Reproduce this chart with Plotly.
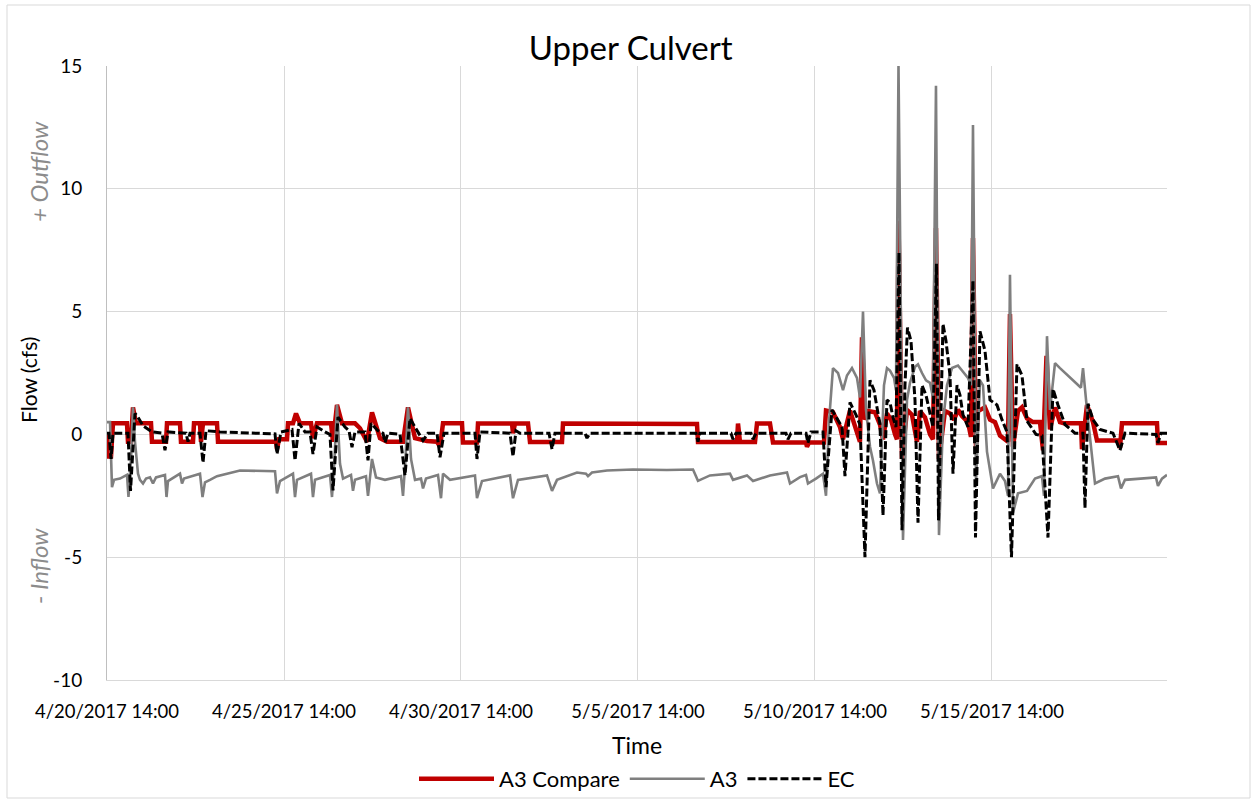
import pandas as pd
import plotly.graph_objects as go

# Series start: 4/20/2017 14:00; times are elapsed days from this point
START = pd.Timestamp("2017-04-20 14:00")

tick_days = [0, 5, 10, 15, 20, 25]
tick_labels = ["4/20/2017 14:00", "4/25/2017 14:00", "4/30/2017 14:00",
               "5/5/2017 14:00", "5/10/2017 14:00", "5/15/2017 14:00"]
flow_ticks = [-10, -5, 0, 5, 10, 15]
flow_tick_labels = ["-10", "-5", "0", "5", "10", "15"]

# A3 Compare
a3c_days = [0.000, 0.028, 0.113, 0.169, 0.565, 0.593, 0.678, 0.734, 0.819, 1.243,
            1.271, 1.667, 1.695, 2.062, 2.090, 2.429, 2.458, 2.627, 2.655, 2.712,
            3.107, 3.136, 4.774, 4.802, 4.859, 5.085, 5.113, 5.254, 5.339, 5.452,
            5.763, 5.819, 5.932, 6.328, 6.384, 6.497, 6.638, 7.006, 7.147, 7.345,
            7.486, 7.712, 7.910, 8.362, 8.503, 8.701, 9.040, 9.322, 9.407, 9.492,
            10.028, 10.056, 10.452, 10.480, 11.441, 11.469, 11.525, 11.893, 11.949, 12.853,
            12.881, 16.667, 16.695, 17.797, 17.825, 17.881, 18.305, 18.362, 18.729, 18.814,
            19.746, 19.774, 19.831, 20.254, 20.311, 20.508, 20.706, 20.791, 20.989, 21.130,
            21.271, 21.328, 21.412, 21.497, 21.695, 21.836, 21.921, 22.034, 22.147, 22.260,
            22.316, 22.359, 22.458, 22.599, 22.740, 22.881, 22.966, 23.107, 23.249, 23.333,
            23.418, 23.503, 23.672, 23.814, 23.927, 24.040, 24.153, 24.322, 24.407, 24.463,
            24.548, 24.605, 24.802, 24.944, 25.085, 25.226, 25.367, 25.452, 25.508, 25.593,
            25.734, 25.847, 25.989, 26.158, 26.356, 26.441, 26.540, 26.638, 26.780, 26.921,
            27.034, 27.514, 27.542, 27.684, 27.853, 27.966, 28.559, 28.616, 28.672, 29.661,
            29.689, 29.944]
a3c_flow = [0.0, -0.9, -0.9, 0.45, 0.45, -0.3, -0.3, 1.1, 0.45, 0.45,
            -0.3, -0.3, 0.45, 0.45, -0.3, -0.3, 0.45, 0.45, -0.3, 0.45,
            0.45, -0.3, -0.3, -0.6, -0.2, -0.2, 0.45, 0.45, 0.85, 0.45,
            0.45, -0.15, 0.45, 0.45, -0.3, 1.2, 0.45, 0.45, 0.25, -0.3,
            0.9, -0.15, -0.3, -0.3, 1.1, -0.15, -0.27, -0.3, -0.5, 0.45,
            0.45, -0.33, -0.33, 0.44, 0.44, 0.05, 0.44, 0.44, -0.31, -0.31,
            0.44, 0.42, -0.31, -0.31, 0.44, -0.31, -0.31, 0.44, 0.44, -0.33,
            -0.33, -0.5, -0.33, -0.33, 0.97, 0.9, 0.3, -0.2, 0.97, 0.4,
            -0.3, 3.95, 0.6, 0.95, 0.9, 0.4, -0.2, 0.85, 0.6, 0.0,
            -0.2, 8.7, -1.0, 1.0, 0.8, -0.3, 0.95, 0.7, 0.0, -0.2,
            8.4, -1.0, 0.95, 0.85, 0.6, 1.0, 0.75, 0.5, -0.1, 8.0,
            -0.5, 0.95, 1.1, 0.6, 0.5, -0.05, -0.2, -0.3, 4.9, -0.5,
            0.95, 1.1, 0.65, 0.5, 0.5, -0.65, 3.2, 0.2, 1.1, 0.5,
            0.45, 0.45, -0.6, 1.2, 0.5, -0.25, -0.25, -0.55, 0.45, 0.45,
            -0.35, -0.35]

# A3
a3_days = [0.000, 0.085, 0.141, 0.198, 0.367, 0.565, 0.607, 0.678, 0.734, 0.791,
           0.876, 0.932, 1.017, 1.102, 1.215, 1.299, 1.384, 1.638, 1.681, 1.723,
           2.062, 2.119, 2.175, 2.627, 2.698, 2.768, 2.910, 3.107, 3.757, 4.746,
           4.802, 4.887, 5.254, 5.311, 5.367, 5.763, 5.819, 5.876, 6.299, 6.356,
           6.427, 6.497, 6.582, 6.667, 6.893, 6.949, 7.006, 7.316, 7.373, 7.486,
           7.599, 7.853, 8.305, 8.362, 8.432, 8.503, 8.588, 8.701, 8.870, 8.927,
           9.011, 9.350, 9.435, 9.492, 9.689, 10.395, 10.452, 10.593, 11.384, 11.469,
           11.610, 12.429, 12.571, 12.712, 13.277, 13.531, 13.588, 13.701, 14.124, 14.859,
           15.819, 16.554, 16.695, 17.034, 17.599, 17.684, 18.079, 18.249, 18.729, 19.209,
           19.294, 19.576, 19.746, 19.802, 20.028, 20.226, 20.311, 20.395, 20.508, 20.650,
           20.791, 20.904, 21.045, 21.186, 21.271, 21.356, 21.441, 21.554, 21.638, 21.751,
           21.836, 21.949, 22.034, 22.119, 22.232, 22.288, 22.359, 22.486, 22.599, 22.684,
           22.825, 22.910, 23.023, 23.136, 23.249, 23.333, 23.418, 23.503, 23.616, 23.729,
           23.870, 24.040, 24.153, 24.322, 24.407, 24.463, 24.548, 24.661, 24.746, 24.859,
           25.028, 25.226, 25.367, 25.452, 25.508, 25.593, 25.734, 25.989, 26.215, 26.412,
           26.469, 26.554, 26.638, 26.780, 26.921, 27.062, 27.288, 27.514, 27.571, 27.684,
           27.910, 28.192, 28.559, 28.644, 28.757, 29.181, 29.633, 29.689, 29.802, 29.944]
a3_flow = [0.5, 0.5, -2.15, -1.85, -1.8, -1.65, -2.55, -1.0, 1.1, -0.3,
           -1.6, -1.85, -2.0, -1.8, -1.75, -2.0, -1.75, -1.65, -2.55, -1.9,
           -1.6, -2.0, -1.8, -1.6, -2.55, -1.95, -1.85, -1.7, -1.47, -1.5,
           -2.4, -1.9, -1.6, -2.55, -1.85, -1.6, -2.55, -1.85, -1.65, -2.55,
           -1.0, 1.2, -1.2, -1.8, -1.65, -2.3, -1.85, -1.7, -2.5, -1.0,
           -1.75, -1.85, -1.7, -2.5, -1.0, 1.1, -1.0, -1.85, -1.8, -2.2,
           -1.8, -1.65, -2.6, -1.6, -1.85, -1.67, -2.6, -1.9, -1.67, -2.6,
           -1.85, -1.67, -2.3, -1.85, -1.55, -1.6, -1.7, -1.55, -1.47, -1.43,
           -1.45, -1.43, -1.89, -1.67, -1.6, -1.85, -1.67, -1.9, -1.67, -1.55,
           -2.0, -1.74, -1.65, -2.0, -1.8, -1.6, -2.5, 0.5, 2.7, 2.5,
           1.8, 2.4, 2.7, 2.3, 1.5, 5.0, 1.0, -0.5, -1.06, -2.0,
           -2.4, 2.0, 2.7, 2.6, 2.3, 1.8, 15.0, -4.3, 1.4, 2.1,
           2.75, 2.85, 2.5, 2.2, 2.1, 1.5, 14.2, -4.1, 0.5, 2.0,
           2.7, 2.8, 2.6, 2.3, 2.0, 12.6, -2.0, 2.2, 2.0, -0.7,
           -2.2, -1.6, -1.9, -2.5, 6.5, -3.2, -2.4, -2.3, -1.8, -1.7,
           -2.5, 4.0, 1.0, 2.9, 2.7, 2.5, 2.2, 1.9, 2.7, 1.0,
           -2.0, -1.8, -1.7, -2.2, -1.85, -1.8, -1.75, -2.1, -1.8, -1.65]

# EC
ec_days = [0.000, 0.056, 0.113, 0.169, 0.593, 0.664, 0.791, 0.876, 1.017, 1.271,
           1.554, 1.638, 1.723, 2.232, 2.288, 2.345, 2.627, 2.712, 2.797, 3.192,
           4.746, 4.802, 4.915, 5.226, 5.311, 5.424, 5.593, 5.734, 5.819, 5.932,
           6.158, 6.299, 6.384, 6.525, 6.723, 6.836, 6.921, 7.006, 7.288, 7.373,
           7.458, 7.655, 7.797, 7.853, 7.938, 8.277, 8.418, 8.559, 8.701, 8.927,
           9.068, 9.322, 9.407, 9.520, 10.395, 10.452, 10.537, 11.384, 11.469, 11.554,
           11.667, 12.486, 12.571, 12.655, 13.503, 13.559, 13.644, 16.638, 16.695, 16.751,
           17.627, 17.684, 17.768, 18.192, 18.249, 18.333, 19.181, 19.237, 19.322, 19.746,
           19.802, 19.887, 20.226, 20.311, 20.480, 20.650, 20.763, 20.847, 20.989, 21.158,
           21.271, 21.412, 21.554, 21.667, 21.751, 21.836, 21.921, 22.034, 22.119, 22.203,
           22.288, 22.373, 22.458, 22.542, 22.613, 22.712, 22.768, 22.825, 22.910, 23.023,
           23.136, 23.249, 23.333, 23.432, 23.489, 23.616, 23.701, 23.814, 23.898, 24.011,
           24.096, 24.181, 24.322, 24.463, 24.534, 24.661, 24.802, 24.944, 25.141, 25.282,
           25.424, 25.551, 25.706, 25.847, 25.989, 26.243, 26.412, 26.582, 26.723, 26.864,
           27.062, 27.345, 27.571, 27.627, 27.712, 27.853, 28.051, 28.418, 28.616, 28.757,
           29.633, 29.689, 29.774, 29.944]
ec_flow = [0.05, 0.05, -1.0, 0.05, 0.05, -2.3, 0.85, 0.7, 0.35, 0.1,
           0.05, -0.65, 0.1, 0.05, -0.3, 0.05, 0.05, -1.15, 0.15, 0.1,
           0.02, -0.8, 0.1, 0.2, -1.06, 0.45, 0.1, 0.1, -0.8, 0.3,
           0.1, 0.0, -2.28, 0.7, 0.3, 0.15, -0.52, 0.1, 0.1, -1.06,
           0.45, 0.15, 0.05, -0.33, 0.05, 0.0, -1.67, 0.65, 0.3, -0.25,
           0.05, 0.05, -0.93, 0.05, 0.05, -1.0, 0.1, 0.05, -0.9, 0.15,
           0.05, 0.05, -0.6, 0.05, 0.05, -0.15, 0.05, 0.05, -0.3, 0.05,
           0.05, -0.2, 0.05, 0.05, -0.2, 0.05, 0.05, -0.2, 0.05, 0.05,
           -0.35, 0.1, 0.1, -2.15, 1.0, 0.6, 0.3, -1.7, 1.3, 0.8,
           0.4, -5.0, 2.2, 1.8, 1.1, 0.4, -3.3, 1.4, 1.3, 0.7,
           0.3, 7.4, -3.9, 2.0, 4.35, 3.8, 2.6, 1.4, -3.6, 2.0,
           1.6, 0.85, 0.3, 6.95, -3.5, 4.5, 3.8, 2.4, -1.6, 2.0,
           1.6, 0.8, 0.3, 6.27, -4.2, 4.2, 3.4, 1.4, 1.2, 0.6,
           0.1, -5.0, 2.85, 2.4, 0.55, 0.0, -0.05, -4.2, 1.85, 1.2,
           0.4, 0.05, 0.05, -3.0, 1.25, 0.6, 0.2, 0.05, -0.65, 0.05,
           0.0, -0.35, 0.05, 0.05]


def to_time(days):
    return [START + pd.Timedelta(days=d) for d in days]


FONT = "Lato, 'Open Sans', sans-serif"
GRID = "#d9d9d9"

fig = go.Figure()
fig.add_trace(go.Scatter(x=to_time(a3c_days), y=a3c_flow, mode="lines", name="A3 Compare",
                         line=dict(color="#c00000", width=4.5)))
fig.add_trace(go.Scatter(x=to_time(a3_days), y=a3_flow, mode="lines", name="A3",
                         line=dict(color="#7f7f7f", width=2.6)))
fig.add_trace(go.Scatter(x=to_time(ec_days), y=ec_flow, mode="lines", name="EC",
                         line=dict(color="#000000", width=3, dash="8px,3px")))

x_end = START + pd.Timedelta(days=29.944)

fig.update_layout(
    width=1253, height=801,
    margin=dict(l=107, r=86, t=66, b=121, autoexpand=False),
    paper_bgcolor="white", plot_bgcolor="white",
    font=dict(family=FONT, color="#000000", size=19),
    title=dict(text="Upper Culvert", x=0.494, xref="paper", xanchor="center",
               y=1 - 48 / 801, yanchor="middle",
               font=dict(family=FONT, size=33, color="#000000")),
    showlegend=True,
    legend=dict(orientation="h", x=0.5, xanchor="center",
                yref="container", y=1 - 779 / 801, yanchor="middle",
                font=dict(family=FONT, size=22), traceorder="normal",
                itemwidth=75, bgcolor="rgba(0,0,0,0)"),
    xaxis=dict(type="date", range=[START, x_end], tickmode="array",
               tickvals=to_time(tick_days), ticktext=tick_labels,
               showgrid=True, gridcolor=GRID, gridwidth=1,
               showline=True, linecolor=GRID, linewidth=1,
               ticks="", ticklabelstandoff=15, zeroline=False, automargin=False,
               tickfont=dict(family=FONT, size=18.5)),
    yaxis=dict(range=[-10, 15], tickmode="array", tickvals=flow_ticks,
               ticktext=flow_tick_labels,
               showgrid=True, gridcolor=GRID, gridwidth=1,
               showline=True, linecolor="#bfbfbf", linewidth=1,
               ticks="", ticklabelstandoff=20, zeroline=False, automargin=False,
               tickfont=dict(family=FONT, size=19)),
)

annotations = [
    dict(text="Flow (cfs)", x=(28 - 107) / 1060, y=(680 - 380) / 614, textangle=-90,
         font=dict(family=FONT, size=21, color="#000000")),
    dict(text="<i>+ Outflow</i>", x=(38 - 107) / 1060, y=(680 - 172) / 614, textangle=-90,
         font=dict(family=FONT, size=24, color="#8c8c8c")),
    dict(text="<i>- Inflow</i>", x=(38 - 107) / 1060, y=(680 - 566) / 614, textangle=-90,
         font=dict(family=FONT, size=24, color="#8c8c8c")),
    dict(text="Time", x=0.5, y=(680 - 745) / 614,
         font=dict(family=FONT, size=23, color="#000000")),
]
for a in annotations:
    a.update(xref="paper", yref="paper", showarrow=False, xanchor="center", yanchor="middle")
fig.update_layout(annotations=annotations)

# Chart-area border
fig.add_shape(type="rect", xref="paper", yref="paper",
              x0=(7 - 107) / 1060, x1=(1250 - 107) / 1060,
              y0=(680 - 798) / 614, y1=(680 - 5) / 614,
              line=dict(color=GRID, width=1), fillcolor="rgba(0,0,0,0)", layer="below")

fig.write_html("out.html")
